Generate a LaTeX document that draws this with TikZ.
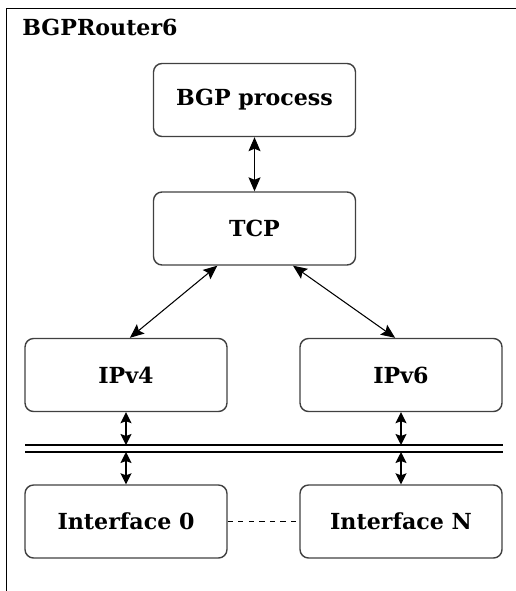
\documentclass[tikz,border=0pt]{standalone}
\usepackage{fontspec}
\setmainfont{DejaVu Serif}
\usetikzlibrary{arrows.meta,positioning}
\tikzset{
  layer/.style={draw=black!75, rounded corners=0.17cm, minimum width=4.04cm,
    minimum height=1.46cm, line width=0.8pt,
    font=\bfseries\fontsize{12.6}{15}\selectfont},
  link/.style={{Stealth[length=0.28cm,width=0.24cm,inset=0.05cm]}-{Stealth[length=0.28cm,width=0.24cm,inset=0.05cm]},
    line width=0.6pt},
  shortlink/.style={{Stealth[length=0.22cm,width=0.22cm,inset=0.04cm]}-{Stealth[length=0.22cm,width=0.22cm,inset=0.04cm]},
    line width=0.9pt},
}

\begin{document}
\begin{tikzpicture}[x=0.02cm,y=-0.02cm]
  \useasboundingbox (0,0) rectangle (516,591);
  % router frame
  \draw[line width=1.1pt] (6.5,591) -- (6.5,8.5) -- (516,8.5);
  \node[anchor=base west, inner sep=0pt, font=\bfseries\fontsize{12.6}{15}\selectfont] (title) at (22,36) {BGPRouter6};
  % layers
  \node[layer] (bgp) at (254.5,100) {BGP process};
  \node[layer] (tcp) at (254.5,228.5) {TCP};
  \node[layer] (ipv4) at (126,375) {IPv4};
  \node[layer] (ipv6) at (401,375) {IPv6};
  \node[layer] (if0) at (126,521.5) {Interface 0};
  \node[layer] (ifn) at (401,521.5) {Interface N};
  % bus
  \coordinate (busa) at (25,445);
  \coordinate (busb) at (25,452);
  \draw[line width=0.8pt] (busa) -- (busa -| ipv6.east);
  \draw[line width=0.8pt] (busb) -- (busb -| ipv6.east);
  % links
  \draw[link] (bgp) -- (tcp);
  \draw[link] (tcp.-135) -- (ipv4.84);
  \draw[link] (tcp.-44) -- (ipv6.99);
  \draw[shortlink] (ipv4) -- (ipv4 |- busa);
  \draw[shortlink] (ipv6) -- (ipv6 |- busa);
  \draw[shortlink] (ipv4 |- busb) -- (if0);
  \draw[shortlink] (ipv6 |- busb) -- (ifn);
  \draw[dashed, line width=0.6pt] (if0) -- (ifn);
\end{tikzpicture}
\end{document}
